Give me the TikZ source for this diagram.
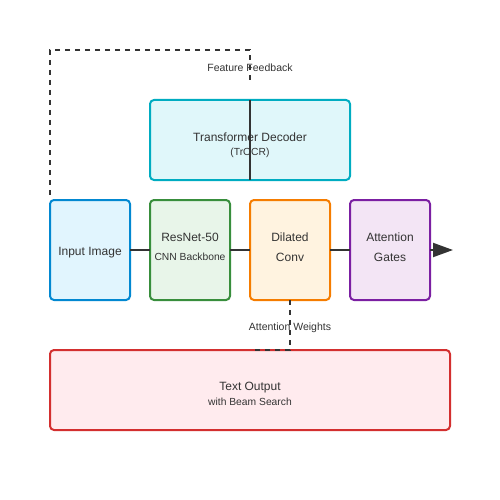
\documentclass[tikz,border=0pt]{standalone}
\usepackage{fontspec}
\setmainfont{Liberation Sans}
\usetikzlibrary{arrows.meta}
\definecolor{cin}{HTML}{0288D1}\definecolor{fin}{HTML}{E1F5FE}
\definecolor{cres}{HTML}{388E3C}\definecolor{fres}{HTML}{E8F5E9}
\definecolor{cdil}{HTML}{F57C00}\definecolor{fdil}{HTML}{FFF3E0}
\definecolor{catt}{HTML}{7B1FA2}\definecolor{fatt}{HTML}{F3E5F5}
\definecolor{ctr}{HTML}{00ACC1}\definecolor{ftr}{HTML}{E0F7FA}
\definecolor{cout}{HTML}{D32F2F}\definecolor{fout}{HTML}{FFEBEE}
\definecolor{ink}{HTML}{333333}
\begin{document}
\begin{tikzpicture}[x=1pt,y=-1pt,
  box/.style={draw, line width=2pt, rounded corners=4pt, inner sep=0pt, outer sep=0pt},
  main/.style={text=ink, font=\fontsize{12}{14}\selectfont, inner sep=0pt},
  sub/.style={text=ink, font=\fontsize{10.3}{12}\selectfont, inner sep=0pt},
  elabel/.style={text=ink, font=\fontsize{10.5}{12}\selectfont, inner sep=0pt},
  conn/.style={draw=ink, line width=2pt},
  dconn/.style={draw=ink, line width=2pt, dash pattern=on 5pt off 5pt}]
\useasboundingbox (0,0) rectangle (500,500);
% boxes
\node[box, draw=cin, fill=fin, minimum width=80pt, minimum height=100pt] (inp) at (90,250) {};
\node[box, draw=cres, fill=fres, minimum width=80pt, minimum height=100pt] (res) at (190,250) {};
\node[box, draw=cdil, fill=fdil, minimum width=80pt, minimum height=100pt] (dil) at (290,250) {};
\node[box, draw=catt, fill=fatt, minimum width=80pt, minimum height=100pt] (att) at (390,250) {};
\node[box, draw=ctr, fill=ftr, minimum width=200pt, minimum height=80pt] (tr) at (250,140) {};
\node[box, draw=cout, fill=fout, minimum width=400pt, minimum height=80pt] (out) at (250,390) {};
% connectors
\draw[conn] (inp.east) -- (res.west);
\draw[conn] (res.east) -- (dil.west);
\draw[conn] (dil.east) -- (att.west);
\coordinate (arrEnd) at (453,250);
\draw[conn, -{Triangle[length=20pt,width=14pt]}] (att.east) -- (arrEnd);
\draw[conn] (tr.north) -- (tr.south);
% feedback
\coordinate (fbA) at (250,80);
\coordinate (fbB) at (250,50);
\coordinate (fbC) at (50,50);
\coordinate (fbD) at (50,195);
\draw[dconn] (fbA) -- (fbB) -- (fbC) -- (fbD);
\node[elabel] (fbl) at (250,67.3) {Feature Feedback};
% attention weights
\coordinate (awB) at (290,350);
\coordinate (awC) at (255,350);
\draw[dconn] (dil.south -| awB) -- (awB) -- (awC);
\node[elabel] (awl) at (290,327.3) {Attention Weights};
% texts
\node[main] (tInp) at (90,252.3) {Input Image};
\node[main] (tRes1) at (190,237.3) {ResNet-50};
\node[sub] (tRes2) at (190,257.3) {CNN Backbone};
\node[main] (tDil1) at (290,237.3) {Dilated};
\node[main] (tDil2) at (290,257.3) {Conv};
\node[main] (tAtt1) at (390,237.3) {Attention};
\node[main] (tAtt2) at (390,257.3) {Gates};
\node[main] (tTr1) at (250,137.3) {Transformer Decoder};
\node[sub] (tTr2) at (250,153.3) {(TrOCR)};
\node[main] (tOut1) at (250,387.3) {Text Output};
\node[sub] (tOut2) at (250,402.3) {with Beam Search};
\end{tikzpicture}
\end{document}
